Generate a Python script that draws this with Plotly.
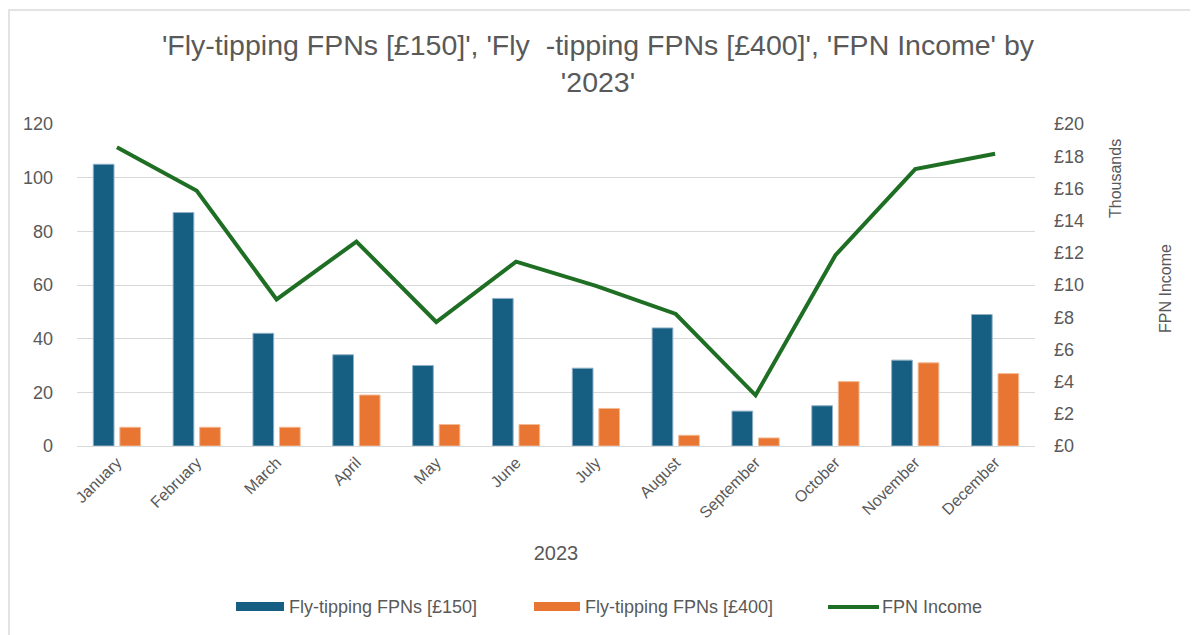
import plotly.graph_objects as go

months = ["January", "February", "March", "April", "May", "June",
          "July", "August", "September", "October", "November", "December"]
fpn_150 = [105, 87, 42, 34, 30, 55, 29, 44, 13, 15, 32, 49]
fpn_400 = [7, 7, 7, 19, 8, 8, 14, 4, 3, 24, 31, 27]
income_thousands = [18.55, 15.85, 9.1, 12.7, 7.7, 11.45, 9.95, 8.2, 3.15, 11.85, 17.2, 18.15]

names = ["Fly-tipping FPNs [£150]", "Fly-tipping FPNs [£400]", "FPN Income"]
colors = ["#175e83", "#e97532", "#1e6e23"]

FONT = "Liberation Sans, Arial, sans-serif"
GREY = "#595959"

fig = go.Figure()
fig.add_trace(go.Bar(x=months, y=fpn_150, name=names[0],
                     marker=dict(color=colors[0], line=dict(color="#8fb0c6", width=1))))
fig.add_trace(go.Bar(x=months, y=fpn_400, name=names[1],
                     marker=dict(color=colors[1], line=dict(color="#f3bb95", width=1))))
fig.add_trace(go.Scatter(x=months, y=income_thousands, name=names[2], yaxis="y2",
                         mode="lines", line=dict(color=colors[2], width=4)))

OFF = 8  # page body margin
W, H = 1198 - OFF, 635 - OFF
L, R, T, B = 77 - OFF, 1035 - OFF, 124 - OFF, 446 - OFF
pw, ph = R - L, B - T

def px(X):
    return (X - OFF - L) / pw

def py(Y):
    return (B - (Y - OFF)) / ph

shapes = [
    dict(type="line", xref="paper", yref="paper", x0=px(9), x1=px(9), y0=py(9), y1=py(640),
         line=dict(color="#e3e3e3", width=2), layer="below"),
    dict(type="line", xref="paper", yref="paper", x0=px(8), x1=px(1200), y0=py(10), y1=py(10),
         line=dict(color="#e3e3e3", width=2), layer="below"),
    # custom legend swatches
    dict(type="rect", xref="paper", yref="paper", x0=px(236), x1=px(284), y0=py(611), y1=py(602),
         fillcolor=colors[0], line=dict(width=0)),
    dict(type="rect", xref="paper", yref="paper", x0=px(534), x1=px(580), y0=py(611), y1=py(602),
         fillcolor=colors[1], line=dict(width=0)),
    dict(type="line", xref="paper", yref="paper", x0=px(828), x1=px(879), y0=py(607), y1=py(607),
         line=dict(color=colors[2], width=4)),
]

leg_font = dict(size=18, color=GREY, family=FONT)
annotations = [
    dict(text="Thousands", xref="paper", yref="paper", x=px(1115), y=py(179),
         xanchor="center", yanchor="middle",
         textangle=-90, showarrow=False, font=dict(size=16, color=GREY, family=FONT)),
    dict(text="FPN Income", xref="paper", yref="paper", x=px(1165), y=py(289),
         xanchor="center", yanchor="middle",
         textangle=-90, showarrow=False, font=dict(size=16, color=GREY, family=FONT)),
    dict(text=names[0], xref="paper", yref="paper", x=px(287), y=py(607), xanchor="left",
         yanchor="middle", showarrow=False, font=leg_font),
    dict(text=names[1], xref="paper", yref="paper", x=px(583), y=py(607), xanchor="left",
         yanchor="middle", showarrow=False, font=leg_font),
    dict(text=names[2], xref="paper", yref="paper", x=px(880), y=py(607), xanchor="left",
         yanchor="middle", showarrow=False, font=leg_font),
]

fig.update_layout(
    width=W, height=H,
    margin=dict(l=L, r=W - R, t=T, b=H - B),
    paper_bgcolor="white", plot_bgcolor="white",
    font=dict(family=FONT, color=GREY),
    title=dict(text="'Fly-tipping FPNs [£150]', 'Fly  -tipping FPNs [£400]', 'FPN Income' by<br>'2023'",
               x=px(598), xanchor="center", xref="paper",
               y=1 - 47 / H, yanchor="top",
               font=dict(size=28.5, color=GREY, family=FONT)),
    barmode="group", bargap=0.335, bargroupgap=0.22,
    showlegend=False,
    xaxis=dict(tickangle=-45, tickfont=dict(size=16, color=GREY, family=FONT),
               showline=True, linecolor="#d9d9d9", linewidth=1, ticks="",
               title=dict(text="2023", font=dict(size=20, color=GREY, family=FONT), standoff=25)),
    yaxis=dict(range=[0, 120], dtick=20, showgrid=True, gridcolor="#d9d9d9", zeroline=False,
               tickfont=dict(size=18, color=GREY, family=FONT), ticklabelstandoff=23),
    yaxis2=dict(range=[0, 20], dtick=2, overlaying="y", side="right", showgrid=False,
                zeroline=False, tickprefix="£", tickfont=dict(size=18, color=GREY, family=FONT),
                ticklabelstandoff=18),
    annotations=annotations,
    shapes=shapes,
)

fig.write_html("out.html")
